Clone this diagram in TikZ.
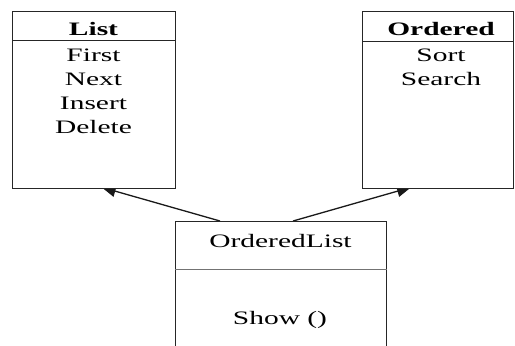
\documentclass[tikz,border=0pt]{standalone}
\usepackage{fontspec}
\setmainfont{Liberation Serif}[FakeStretch=1.55]
\usetikzlibrary{arrows.meta,backgrounds,calc}
\begin{document}
\begin{tikzpicture}[x=1pt,y=-1pt,
  classbox/.style={draw=black!85, line width=1.3pt, fill=white, inner sep=0pt, anchor=north west},
  member/.style={anchor=base, inner sep=0pt, font=\fontsize{19}{19}\selectfont},
  classname/.style={anchor=base, inner sep=0pt, font=\fontsize{19}{19}\selectfont\bfseries},
  divider/.style={line width=1.3pt, draw=black!85},
  softdivider/.style={line width=1.8pt, draw=black!55},
  genarrow/.style={line width=1.3pt, draw=black!90, -{Triangle[length=14pt,width=11.6pt]}}]

\useasboundingbox (0,0) rectangle (515,346);
\clip (0,0) rectangle (515,346);

% class List
\node[classbox, minimum width=163pt, minimum height=177pt] (list) at (12,11) {};
\node[classname] (listname) at (93.5,35.5) {List};
\draw[divider] ($(list.north west)+(0,29.7)$) -- ($(list.north east)+(0,29.7)$);
\node[member] (first)  at (93.5,61.5) {First};
\node[member] (next)   at (93.5,85)   {Next};
\node[member] (insert) at (93.5,109)  {Insert};
\node[member] (delete) at (93.5,133)  {Delete};

% class Ordered
\node[classbox, minimum width=151pt, minimum height=177pt] (ordered) at (362,11) {};
\node[classname] (orderedname) at (441,35.5) {Ordered};
\draw[divider] ($(ordered.north west)+(0,30.5)$) -- ($(ordered.north east)+(0,30.5)$);
\node[member] (sort)   at (441,61.5) {Sort};
\node[member] (search) at (441,85)   {Search};

% class OrderedList
\node[classbox, minimum width=211pt, minimum height=140pt] (olist) at (175,221) {};
\node[member] (olistname) at (280.5,247) {OrderedList};
\draw[softdivider] ($(olist.north west)+(0,48.5)$) -- ($(olist.north east)+(0,48.5)$);
\node[member] (show) at (280,324) {Show ()};

% generalisation arrows, tips tucked under the parent boxes
\begin{scope}[on background layer]
  \draw[genarrow] ($(olist.north west)+(45,0)$) -- ($(list.south west)+(89.7,-2)$);
  \draw[genarrow] ($(olist.north west)+(118,0)$) -- ($(ordered.south west)+(49,-2)$);
\end{scope}
\end{tikzpicture}
\end{document}
